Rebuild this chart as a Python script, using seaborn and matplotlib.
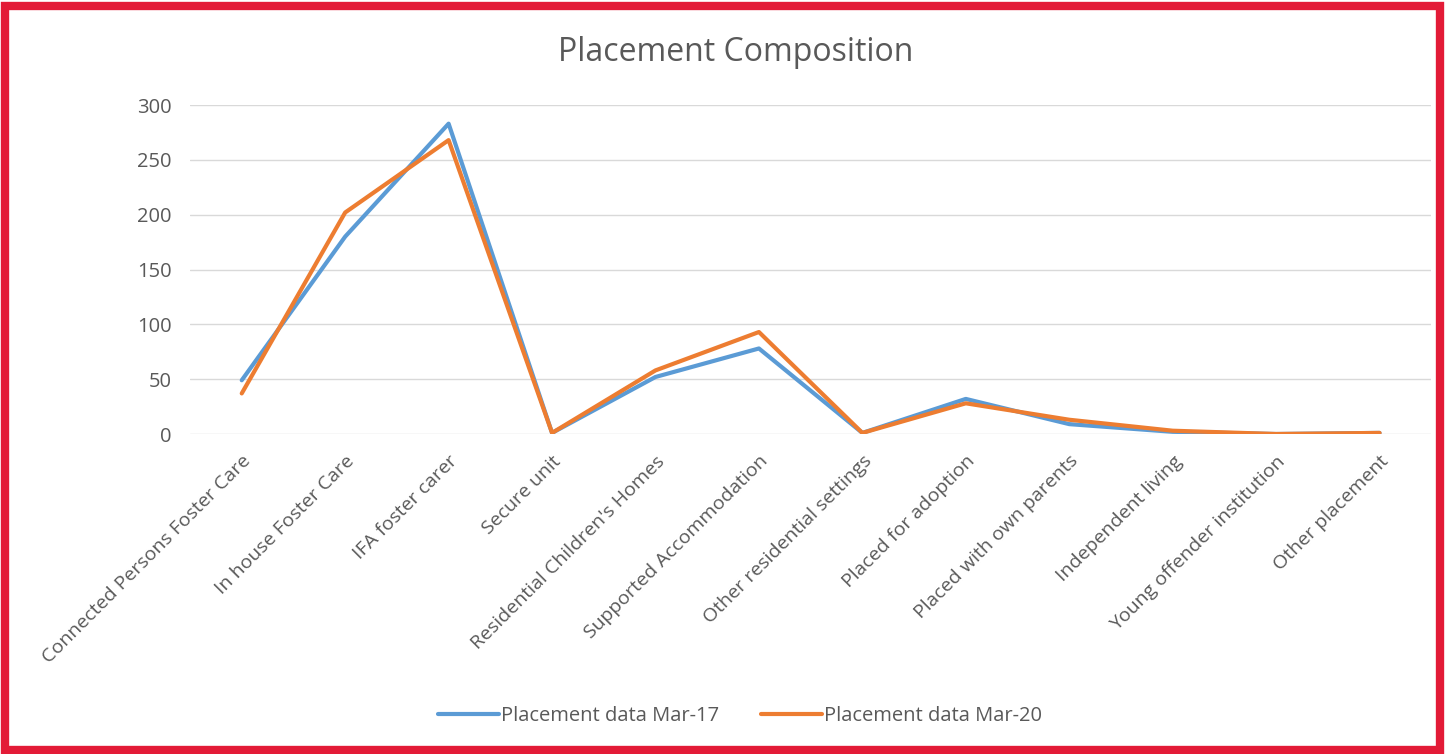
import pandas as pd
import matplotlib.pyplot as plt
import seaborn as sns
from matplotlib.patches import Rectangle

# Chart data
categories = [
    "Connected Persons Foster Care", "In house Foster Care", "IFA foster carer",
    "Secure unit", "Residential Children's Homes", "Supported Accommodation",
    "Other residential settings", "Placed for adoption", "Placed with own parents",
    "Independent living", "Young offender institution", "Other placement",
]
mar17 = [49, 180, 283, 1, 52, 78, 1, 32, 9, 2, 0, 1]
mar20 = [37, 202, 268, 1, 58, 93, 1, 28, 13, 3, 0, 1]
series_names = ["Placement data Mar-17", "Placement data Mar-20"]
y_ticks = [0, 50, 100, 150, 200, 250, 300]

rows = []
for name, vals in zip(series_names, [mar17, mar20]):
    for i, v in enumerate(vals):
        rows.append({"pos": i, "category": categories[i], "value": v, "series": name})
df = pd.DataFrame(rows)

sns.set_style("white")
plt.rcParams["font.family"] = ["Open Sans", "DejaVu Sans"]

text_grey = "#595959"
fig = plt.figure(figsize=(14.45, 7.54), dpi=100)
ax = fig.add_axes([0.1315, 0.4244, 0.859, 0.4363])

sns.lineplot(data=df, x="pos", y="value", hue="series",
             palette=["#5B9BD5", "#ED7D31"], linewidth=3, ax=ax,
             legend=True)

ax.set_xlim(-0.5, len(categories) - 0.5)
ax.set_ylim(0, 300)
ax.set_yticks(y_ticks)
ax.set_xticks(range(len(categories)))
ax.set_xticklabels(categories, rotation=45, ha="right", rotation_mode="anchor",
                   fontsize=14, color=text_grey)
ax.tick_params(axis="y", labelsize=14.5, labelcolor=text_grey, length=0, pad=13)
ax.tick_params(axis="x", length=0, pad=13)
ax.yaxis.grid(True, color="#D9D9D9", linewidth=1)
ax.set_axisbelow(True)
for s in ax.spines.values():
    s.set_visible(False)
ax.set_xlabel("")
ax.set_ylabel("")

leg = ax.legend(loc="center", bbox_to_anchor=(0.443, -0.857),
                ncol=2, frameon=False, fontsize=14.5, handlelength=3.0,
                handletextpad=0.1, columnspacing=2.1)
for t in leg.get_texts():
    t.set_color(text_grey)

fig.text(0.509, 0.931, "Placement Composition", ha="center", va="center",
         fontsize=23, color=text_grey)

# red frame round the picture
fig.patches.append(Rectangle((0.0035, 0.005), 0.993, 0.987, transform=fig.transFigure,
                             fill=False, edgecolor="#E31B37", linewidth=6, zorder=10))

fig.savefig("out.png", dpi=100, facecolor="white")
